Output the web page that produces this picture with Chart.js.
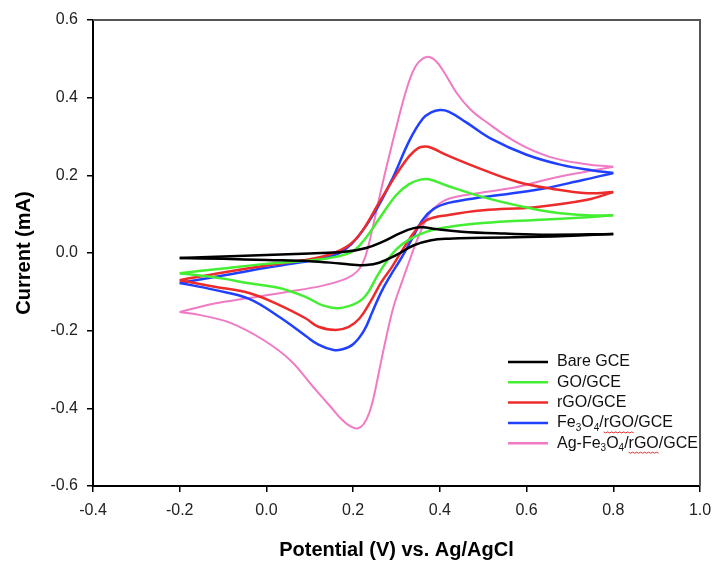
<!DOCTYPE html>
<html>
<head>
<meta charset="utf-8">
<script src="https://cdn.jsdelivr.net/npm/chart.js@4"></script>
<style>
  body { margin: 0; background: #fff; }
  canvas { display: block; }
</style>
</head>
<body>
<canvas id="cv" width="713" height="562"></canvas>
<script>
"use strict";

// axis ticks
const xTicks = [-0.4, -0.2, 0.0, 0.2, 0.4, 0.6, 0.8, 1.0]
const yTicks = [-0.6, -0.4, -0.2, 0.0, 0.2, 0.4, 0.6]

// CV loops: [potential V, current mA], forward scan to 0.8 V, then reverse scan back to -0.2 V
const bareGCE = [
    [-0.2, -0.013], [-0.1, -0.009], [0.0, -0.005], [0.1, -0.001], [0.18, 0.003], [0.23, 0.013],
    [0.27, 0.03], [0.31, 0.052], [0.34, 0.064], [0.36, 0.066], [0.39, 0.062], [0.45, 0.055],
    [0.55, 0.05], [0.65, 0.047], [0.8, 0.049],
    [0.72, 0.045], [0.6, 0.041], [0.5, 0.039], [0.42, 0.037], [0.38, 0.033], [0.34, 0.02],
    [0.3, -0.005], [0.26, -0.025], [0.23, -0.031], [0.2, -0.03], [0.17, -0.027], [0.1, -0.021],
    [0.0, -0.018], [-0.1, -0.015], [-0.2, -0.013]
]
const goGCE = [
    [-0.2, -0.052], [-0.1, -0.04], [0.0, -0.028], [0.1, -0.019], [0.16, -0.01], [0.2, 0.005],
    [0.23, 0.04], [0.26, 0.088], [0.3, 0.15], [0.33, 0.178], [0.355, 0.189], [0.375, 0.19],
    [0.42, 0.172], [0.5, 0.144], [0.58, 0.122], [0.66, 0.105], [0.74, 0.097], [0.8, 0.097],
    [0.74, 0.092], [0.62, 0.085], [0.5, 0.077], [0.42, 0.067], [0.37, 0.055], [0.33, 0.035],
    [0.3, 0.01], [0.275, -0.025], [0.255, -0.06], [0.237, -0.097], [0.222, -0.118],
    [0.2, -0.133], [0.165, -0.142], [0.13, -0.135], [0.09, -0.113], [0.03, -0.09],
    [-0.04, -0.078], [-0.1, -0.066], [-0.2, -0.052]
]
const rgoGCE = [
    [-0.2, -0.07], [-0.1, -0.05], [0.0, -0.032], [0.1, -0.016], [0.15, -0.002], [0.19, 0.02],
    [0.22, 0.055], [0.26, 0.13], [0.3, 0.203], [0.33, 0.25], [0.35, 0.27], [0.365, 0.274],
    [0.38, 0.271], [0.42, 0.25], [0.5, 0.214], [0.58, 0.183], [0.66, 0.165], [0.74, 0.154],
    [0.8, 0.157],
    [0.74, 0.137], [0.62, 0.118], [0.5, 0.11], [0.42, 0.098], [0.37, 0.085], [0.345, 0.06],
    [0.315, 0.01], [0.29, -0.035], [0.265, -0.075], [0.24, -0.125], [0.215, -0.168],
    [0.19, -0.19], [0.16, -0.198], [0.12, -0.19], [0.09, -0.168], [0.03, -0.134],
    [-0.04, -0.103], [-0.12, -0.087], [-0.2, -0.07]
]
const fe3o4GCE = [
    [-0.2, -0.077], [-0.1, -0.058], [0.0, -0.038], [0.1, -0.02], [0.15, -0.008], [0.18, 0.008],
    [0.21, 0.04], [0.25, 0.105], [0.29, 0.19], [0.33, 0.29], [0.36, 0.345], [0.38, 0.362],
    [0.4, 0.368], [0.42, 0.364], [0.46, 0.337], [0.52, 0.293], [0.6, 0.253], [0.68, 0.227],
    [0.75, 0.213], [0.8, 0.206],
    [0.73, 0.188], [0.62, 0.162], [0.5, 0.144], [0.42, 0.129], [0.385, 0.113], [0.36, 0.085],
    [0.335, 0.035], [0.31, -0.015], [0.285, -0.06], [0.265, -0.1], [0.245, -0.15],
    [0.225, -0.2], [0.2, -0.235], [0.175, -0.248], [0.155, -0.25], [0.12, -0.236],
    [0.09, -0.213], [0.03, -0.165], [-0.04, -0.118], [-0.12, -0.095], [-0.2, -0.077]
]
const agFe3o4GCE = [
    [-0.2, -0.152], [-0.12, -0.13], [-0.04, -0.116], [0.05, -0.1], [0.13, -0.084], [0.175, -0.07],
    [0.2, -0.056], [0.215, -0.04], [0.228, -0.01], [0.243, 0.055], [0.263, 0.155], [0.283, 0.25],
    [0.302, 0.335], [0.32, 0.41], [0.335, 0.46], [0.35, 0.49], [0.37, 0.505], [0.39, 0.495],
    [0.41, 0.465], [0.44, 0.41], [0.47, 0.37], [0.5, 0.343], [0.58, 0.283], [0.655, 0.247],
    [0.73, 0.23], [0.8, 0.222],
    [0.73, 0.208], [0.65, 0.19], [0.578, 0.17], [0.487, 0.154], [0.424, 0.141], [0.4, 0.128],
    [0.375, 0.1], [0.35, 0.04], [0.325, -0.035], [0.314, -0.07], [0.293, -0.139], [0.275, -0.224],
    [0.259, -0.309], [0.248, -0.368], [0.237, -0.412], [0.224, -0.441], [0.21, -0.452],
    [0.195, -0.447], [0.175, -0.43], [0.148, -0.396], [0.108, -0.345], [0.055, -0.276],
    [-0.007, -0.224], [-0.083, -0.18], [-0.152, -0.16], [-0.2, -0.152]
]

// legend labels, pieces flagged 1 are subscripts
const seriesNames = [
    [["Bare GCE", 0]],
    [["GO/GCE", 0]],
    [["rGO/GCE", 0]],
    [["Fe", 0], ["3", 1], ["O", 0], ["4", 1], ["/", 0], ["rGO", 2], ["/GCE", 0]],
    [["Ag-Fe", 0], ["3", 1], ["O", 0], ["4", 1], ["/", 0], ["rGO", 2], ["/GCE", 0]]
]
const seriesData = [bareGCE, goGCE, rgoGCE, fe3o4GCE, agFe3o4GCE]
const seriesColors = ["#000000", "#44ee33", "#ee2b2b", "#2040ff", "#f07ac4"]
const seriesWidths = [2.5, 2.5, 2.5, 2.5, 2]

const FONT = "'Liberation Sans', Arial, sans-serif"

function fmt(v) {
    if (Math.abs(v) < 1e-9) return "0.0"
    return v.toFixed(1)
}

// one loop -> forward and reverse half, split at the turning point
function halves(loop) {
    let turn = 0
    loop.forEach((p, i) => { if (p[0] > loop[turn][0]) turn = i })
    let toXY = p => ({x: p[0], y: p[1]})
    return [loop.slice(0, turn + 1).map(toXY), loop.slice(turn).map(toXY)]
}

// legend inside the plot, lower right
const cvLegend = {
    id: "cvLegend",
    afterDraw(chart) {
        const ctx = chart.ctx
        const area = chart.chartArea
        const x0 = area.right - 192
        const y0 = area.top + 342
        ctx.save()
        seriesNames.forEach((parts, i) => {
            let y = y0 + i * 20.3
            ctx.strokeStyle = seriesColors[i]
            ctx.lineWidth = 2.5
            ctx.beginPath()
            ctx.moveTo(x0, y)
            ctx.lineTo(x0 + 40, y)
            ctx.stroke()
            let x = x0 + 49
            ctx.fillStyle = "#111"
            ctx.textBaseline = "middle"
            for (let [txt, kind] of parts) {
                ctx.font = kind == 1 ? "10px " + FONT : "16px " + FONT
                ctx.fillText(txt, x, kind == 1 ? y + 5 : y)
                let w = ctx.measureText(txt).width
                if (kind == 2) {
                    // spell-check squiggle as in the source figure
                    ctx.strokeStyle = "#e03030"
                    ctx.lineWidth = 1
                    ctx.beginPath()
                    for (let k = 0; k <= w; k += 2) {
                        ctx.lineTo(x + k, y + 9 + (k % 4 ? 1 : 0))
                    }
                    ctx.stroke()
                }
                x += w
            }
        })
        ctx.restore()
    }
}

// grey top and right border of the frame
const frame = {
    id: "frame",
    beforeDatasetsDraw(chart) {
        const ctx = chart.ctx
        const a = chart.chartArea
        ctx.save()
        ctx.strokeStyle = "#555"
        ctx.lineWidth = 2
        ctx.beginPath()
        ctx.moveTo(a.left, a.top)
        ctx.lineTo(a.right, a.top)
        ctx.lineTo(a.right, a.bottom)
        ctx.stroke()
        ctx.restore()
    }
}

let datasets = []
seriesData.forEach((loop, i) => {
    for (let half of halves(loop)) {
        datasets.push({
            label: seriesNames[i].map(p => p[0]).join(""),
            data: half,
            showLine: true,
            borderColor: seriesColors[i],
            borderWidth: seriesWidths[i],
            borderJoinStyle: "round",
            pointRadius: 0,
            tension: 0.4,
            fill: false
        })
    }
})

var ctx = document.getElementById("cv").getContext("2d")
var myChart = new Chart(ctx, {
    type: "scatter",
    data: {datasets: datasets},
    options: {
        responsive: false,
        animation: false,
        layout: {padding: {top: 20, right: 13, left: 0, bottom: 0}},
        plugins: {legend: {display: false}, tooltip: {enabled: false}},
        scales: {
            x: {
                type: "linear",
                min: xTicks[0],
                max: xTicks[xTicks.length - 1],
                afterBuildTicks: s => { s.ticks = xTicks.map(v => ({value: v})) },
                ticks: {callback: fmt, color: "#222", padding: 9, maxRotation: 0,
                        font: {family: FONT, size: 16}},
                grid: {drawOnChartArea: false, drawTicks: true, tickLength: 6, color: "#000", lineWidth: 1.5},
                border: {display: true, color: "#000", width: 2},
                title: {display: true, text: "Potential (V) vs. Ag/AgCl", color: "#000",
                        font: {family: FONT, size: 20, weight: "bold"}, padding: {top: 0, bottom: 0}},
                afterFit: s => { s.height = 76; s.paddingLeft = 0; s.paddingRight = 0 }
            },
            y: {
                type: "linear",
                min: yTicks[0],
                max: yTicks[yTicks.length - 1],
                afterBuildTicks: s => { s.ticks = yTicks.map(v => ({value: v})) },
                ticks: {callback: fmt, color: "#222", padding: 9,
                        font: {family: FONT, size: 16}},
                grid: {drawOnChartArea: false, drawTicks: true, tickLength: 6, color: "#000", lineWidth: 1.5},
                border: {display: true, color: "#000", width: 2},
                title: {display: true, text: "Current (mA)", color: "#000",
                        font: {family: FONT, size: 20, weight: "bold"}, padding: {top: 12, bottom: 0}},
                afterFit: s => { s.width = 93; s.paddingTop = 0; s.paddingBottom = 0 }
            }
        }
    },
    plugins: [frame, cvLegend]
});
</script>
</body>
</html>
